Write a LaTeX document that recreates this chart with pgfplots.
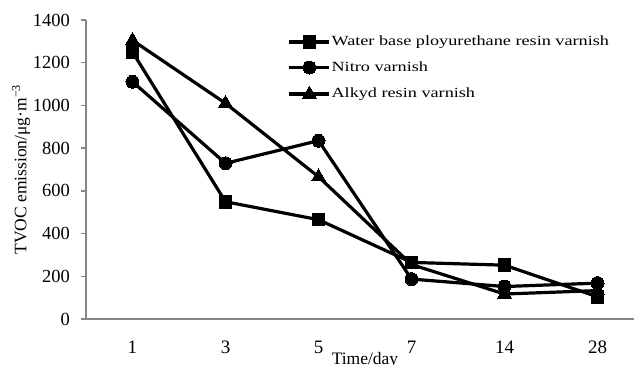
\documentclass[border=0pt]{standalone}
\usepackage{fontspec}
\setmainfont{Liberation Serif}
\newfontfamily\legendfont[FakeStretch=1.3]{Liberation Serif}
\usepackage{pgfplots}
\pgfplotsset{compat=1.18}
\definecolor{axgray}{RGB}{134,134,134}
\begin{document}
\begin{tikzpicture}
\path[use as bounding box] (0,0) rectangle (634pt,364pt);
\begin{axis}[
  at={(86pt,45pt)}, anchor=south west,
  scale only axis, width=558pt, height=299pt,
  xmin=0.5, xmax=6.5, ymin=0, ymax=1400,
  axis lines*=left,
  axis line style={axgray, line width=1.6pt},
  xtick={1,2,3,4,5,6}, xticklabels={1,3,5,7,14,28},
  ytick={0,200,...,1400},
  x tick style={draw=none},
  y tick style={axgray, line width=1.4pt},
  tick align=outside, major tick length=5pt,
  /pgf/number format/assume math mode=true,
  /pgf/number format/1000 sep={},
  yticklabel style={font=\fontsize{18.5}{18.5}\selectfont, inner sep=0pt, xshift=-11pt},
  xticklabel style={font=\fontsize{19}{19}\selectfont, inner sep=0pt, yshift=-17pt},
  xlabel={Time/day},
  xlabel style={font=\fontsize{17.5}{17.5}\selectfont, at={(axis description cs:0.5,-0.112)}, anchor=north, inner sep=0pt},
  ylabel={TVOC emission/μg·m\textsuperscript{−3}},
  ylabel style={font=\fontsize{17.5}{17.5}\selectfont, at={(axis description cs:-0.1165,0.5)}, anchor=center, inner sep=0pt},
  legend image code/.code={\draw[mark repeat=2,mark phase=2] plot coordinates {(0pt,0pt) (20pt,0pt) (40pt,0pt)};},
  legend cell align=left,
  legend style={draw=none, fill=none, at={(axis description cs:0.356,0.957)}, anchor=north west,
    font=\legendfont\fontsize{14}{14}\selectfont,
    nodes={inner sep=0.5pt, text height=10pt, text depth=3pt}, row sep=11.5pt},
]
\addplot[black, line width=3.2pt, mark=square*, mark size=6.3pt, mark options={solid, fill=black, line width=0pt}] coordinates {
  (1,1250) (2,549) (3,465) (4,265) (5,252) (6,104)};
\addlegendentry{Water base ployurethane resin varnish}
\addplot[black, line width=3.2pt, mark=*, mark size=6.5pt, mark options={solid, fill=black, line width=0pt}] coordinates {
  (1,1111) (2,729) (3,835) (4,187) (5,152) (6,168)};
\addlegendentry{Nitro varnish}
\addplot[black, line width=3.2pt, mark=triangle*, mark size=8pt, mark options={solid, fill=black, line width=0pt}] coordinates {
  (1,1305) (2,1010) (3,666) (4,255) (5,117) (6,133)};
\addlegendentry{Alkyd resin varnish}
\end{axis}
\end{tikzpicture}
\end{document}
